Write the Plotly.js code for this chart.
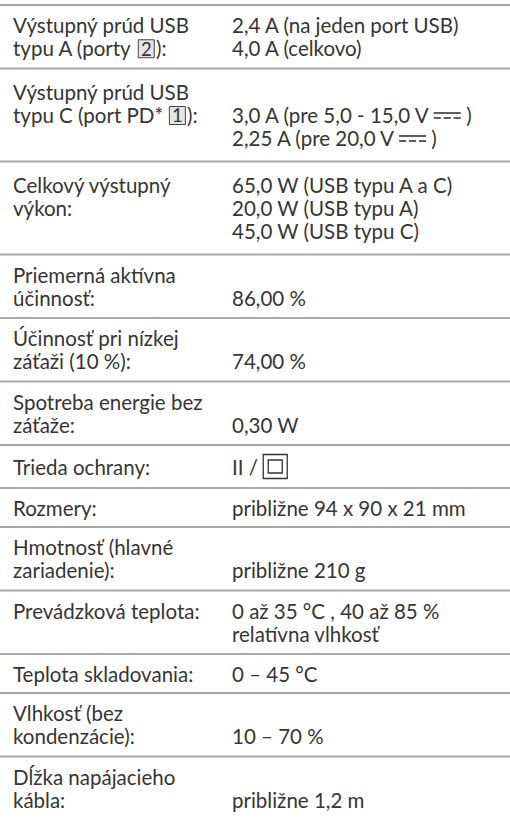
<!DOCTYPE html>
<html><head><meta charset="utf-8">
<script src="https://cdn.plot.ly/plotly-3.0.1.min.js"></script>
<style>html,body{margin:0;padding:0;background:#fff;}#chart{width:510px;height:819px;}</style>
</head><body><div id="chart"></div>
<script>
// ---- data (table content) ----
const labelLines = [
  ["Výstupný prúd USB", "typu A (porty [2]):"],
  ["Výstupný prúd USB", "typu C (port PD* [1]):", ""],
  ["Celkový výstupný", "výkon:", ""],
  ["Priemerná aktívna", "účinnosť:"],
  ["Účinnosť pri nízkej", "záťaži (10 %):"],
  ["Spotreba energie bez", "záťaže:"],
  ["Trieda ochrany:"],
  ["Rozmery:"],
  ["Hmotnosť (hlavné", "zariadenie):"],
  ["Prevádzková teplota:", ""],
  ["Teplota skladovania:"],
  ["Vlhkosť (bez", "kondenzácie):"],
  ["Dĺžka napájacieho", "kábla:"]
];
const valueLines = [
  ["2,4 A (na jeden port USB)", "4,0 A (celkovo)"],
  ["", "3,0 A (pre 5,0 - 15,0 V{DC} )", "2,25 A (pre 20,0 V{DC} )"],
  ["65,0 W (USB typu A a C)", "20,0 W (USB typu A)", "45,0 W (USB typu C)"],
  ["", "86,00 %"],
  ["", "74,00 %"],
  ["", "0,30 W"],
  ["II / {II}"],
  ["približne 94 x 90 x 21 mm"],
  ["", "približne 210 g"],
  ["0 až 35 °C , 40 až 85 %", "relatívna vlhkosť"],
  ["0 – 45 °C"],
  ["", "10 – 70 %"],
  ["", "približne 1,2 m"]
];

// ---- layout / style ----
const W = 510, H = 819;
const FONT = "Lato, 'Noto Sans', sans-serif";
const TEXT_COLOR = '#353535';
const LINE_COLOR = '#a8a8a8';
const LEFT_X = 13, RIGHT_X = 232;
const TOP = 5;
const ROW_H = {1: 39, 2: 63.5, 3: 93};
const LINE_STEP = 23;

const canvas = document.createElement('canvas');
const ctx = canvas.getContext('2d');
function tw(s, size) { ctx.font = size + 'px ' + FONT; return ctx.measureText(s).width; }
const fitL = 172 / (tw('Výstupný prúd USB', 100) / 100);
const fitR = 238 / (tw('2,4 A (na jeden port USB)', 100) / 100);
let FS = (fitL + fitR) / 2;
FS = Math.min(Math.max(FS, 16), 20.5);

const px = x => x / W;
const py = y => 1 - y / H;

const shapes = [];
const annotations = [];

function addText(x, y, s, size) {
  annotations.push({xref: 'paper', yref: 'paper', x: px(x), y: py(y), text: s,
    showarrow: false, xanchor: 'left', yanchor: 'middle', borderpad: 0, borderwidth: 0,
    font: {family: FONT, size: size || FS, color: TEXT_COLOR}});
}

function drawLine(x, cy, line) {
  const re = /(\[\d\]|\{DC\}|\{II\})/;
  const parts = line.split(re).filter(p => p !== '');
  let cx = x;
  parts.forEach(p => {
    if (/^\[\d\]$/.test(p)) {
      const d = p[1];
      const bx0 = cx + 1, bx1 = cx + 17;
      shapes.push({type: 'rect', xref: 'paper', yref: 'paper', x0: px(bx0), x1: px(bx1),
        y0: py(cy + 9.5), y1: py(cy - 8.5), fillcolor: '#e4e4e4', line: {color: '#444', width: 1}, layer: 'below'});
      annotations.push({xref: 'paper', yref: 'paper', x: px((bx0 + bx1) / 2), y: py(cy + 0.5), text: d,
        showarrow: false, xanchor: 'center', yanchor: 'middle', borderpad: 0, borderwidth: 0,
        font: {family: FONT, size: FS - 2, color: TEXT_COLOR}});
      cx = bx1 + 2;
    } else if (p === '{DC}') {
      const x0 = cx + 3, w = 27;
      shapes.push({type: 'line', xref: 'paper', yref: 'paper', x0: px(x0), x1: px(x0 + w),
        y0: py(cy - 2), y1: py(cy - 2), line: {color: TEXT_COLOR, width: 1.6}});
      for (let k = 0; k < 3; k++) {
        const dx = x0 + k * 10;
        shapes.push({type: 'line', xref: 'paper', yref: 'paper', x0: px(dx), x1: px(dx + 7),
          y0: py(cy + 3), y1: py(cy + 3), line: {color: TEXT_COLOR, width: 1.6}});
      }
      cx = x0 + w;
    } else if (p === '{II}') {
      const x0 = cx, s = 24, cyy = cy;
      shapes.push({type: 'rect', xref: 'paper', yref: 'paper', x0: px(x0), x1: px(x0 + s),
        y0: py(cyy + s / 2), y1: py(cyy - s / 2), line: {color: TEXT_COLOR, width: 1.3}});
      const i = 14;
      shapes.push({type: 'rect', xref: 'paper', yref: 'paper', x0: px(x0 + (s - i) / 2), x1: px(x0 + (s + i) / 2),
        y0: py(cyy + i / 2 - 0.5), y1: py(cyy - i / 2 + 0.5), line: {color: TEXT_COLOR, width: 1.3}});
      cx = x0 + s;
    } else {
      addText(cx, cy, p);
      cx += tw(p, FS);
    }
  });
}

let y = TOP;
labelLines.forEach((lab, i) => {
  const vals = valueLines[i];
  const n = Math.max(lab.length, vals.length);
  let h = ROW_H[n];
  if (vals.some(s => s.includes('{II}'))) h += 4;
  shapes.push({type: 'line', xref: 'paper', yref: 'paper', x0: 0, x1: 1, y0: py(y), y1: py(y),
    line: {color: LINE_COLOR, width: 2}});
  const mid = y + h / 2;
  const first = mid - (n - 1) * LINE_STEP / 2;
  for (let k = 0; k < n; k++) {
    const cy = first + k * LINE_STEP;
    if (lab[k]) drawLine(LEFT_X, cy, lab[k]);
    if (vals[k]) drawLine(RIGHT_X, cy, vals[k]);
  }
  y += h;
});
shapes.push({type: 'line', xref: 'paper', yref: 'paper', x0: 0, x1: 1, y0: py(y), y1: py(y),
  line: {color: LINE_COLOR, width: 2}});

Plotly.newPlot('chart', [], {
  width: W, height: H, margin: {l: 0, r: 0, t: 0, b: 0},
  paper_bgcolor: '#ffffff', plot_bgcolor: '#ffffff',
  xaxis: {visible: false}, yaxis: {visible: false},
  showlegend: false, shapes: shapes, annotations: annotations
}, {staticPlot: true, displayModeBar: false});
</script>
</body></html>
